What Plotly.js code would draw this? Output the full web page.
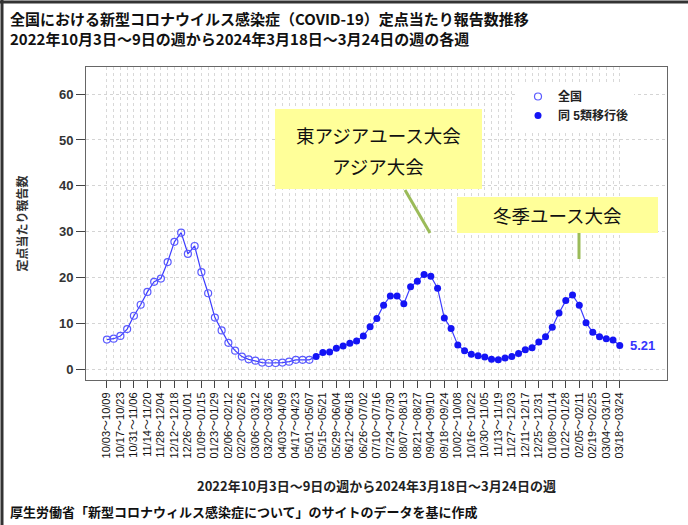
<!DOCTYPE html>
<html>
<head>
<meta charset="utf-8">
<script src="https://cdn.plot.ly/plotly-3.0.1.min.js"></script>
<style>html,body{margin:0;padding:0;background:#fff;}#chart{width:688px;height:525px;}</style>
</head>
<body>
<div id="chart"></div>
<script>
// ---- data ----
const allSeries = [6.5, 6.7, 7.3, 8.8, 11.7, 14.1, 16.9, 19.1, 19.8, 23.4, 27.8, 29.8, 25.2, 26.9, 21.2, 16.6, 11.3, 8.5, 5.8, 4.1, 2.8, 2.2, 1.9, 1.5, 1.4, 1.4, 1.5, 1.7, 2.1, 2.1, 2.1];
const afterSeries = [2.8, 3.7, 3.8, 4.6, 5.1, 5.7, 6.2, 7.3, 9.3, 11.1, 14.0, 16.0, 16.0, 14.3, 18.0, 19.2, 20.7, 20.3, 17.7, 11.2, 8.9, 5.3, 4.1, 3.3, 3.0, 2.7, 2.2, 2.1, 2.5, 2.8, 3.5, 4.3, 4.7, 6.0, 7.1, 9.2, 12.3, 15.0, 16.2, 14.0, 10.2, 8.1, 7.1, 6.7, 6.4, 5.21];
const tickLabels = ["10/03～10/09","10/17～10/23","10/31～11/06","11/14～11/20","11/28～12/04","12/12～12/18","12/26～01/01","01/09～01/15","01/23～01/29","02/06～02/12","02/20～02/26","03/06～03/12","03/20～03/26","04/03～04/09","04/17～04/23","05/01～05/07","05/15～05/21","05/29～06/04","06/12～06/18","06/26～07/02","07/10～07/16","07/24～07/30","08/07～08/13","08/21～08/27","09/04～09/10","09/18～09/24","10/02～10/08","10/16～10/22","10/30～11/05","11/13～11/19","11/27～12/03","12/11～12/17","12/25～12/31","01/08～01/14","01/22～01/28","02/05～02/11","02/19～02/25","03/04～03/10","03/18～03/24"];
const seriesNames = ["全国", "同 5類移行後"];
const titleText = "全国における新型コロナウイルス感染症（COVID-19）定点当たり報告数推移<br>2022年10月3日～9日の週から2024年3月18日～3月24日の週の各週";
const xTitle = "2022年10月3日～9日の週から2024年3月18日～3月24日の週";
const yTitle = "定点当たり報告数";
const sourceText = "厚生労働省「新型コロナウィルス感染症について」のサイトのデータを基に作成";
const eventLabels = ["東アジアユース大会", "アジア大会", "冬季ユース大会"];

// ---- build ----
const xAll = allSeries.map((_, i) => i);
const xAfter = afterSeries.map((_, i) => i + allSeries.length);
const combinedY = allSeries.concat(afterSeries);
const combinedX = combinedY.map((_, i) => i);
const tickVals = tickLabels.map((_, i) => i * 2);
const minorVals = combinedX.filter(i => i % 2 === 1);

const L = 86, R = 667, T = 67, B = 380;
const px = x => (x - L) / (R - L);
const py = y => (B - y) / (B - T);

const FONT = '"Liberation Sans", "Noto Sans CJK JP", sans-serif';
const JP = '"Noto Sans CJK JP", sans-serif';
const blueLine = 'rgb(60,60,255)';
const blueFill = 'rgb(20,20,245)';

const traces = [
  {x: combinedX, y: combinedY, mode: 'lines', line: {color: blueLine, width: 1.2}, showlegend: false, hoverinfo: 'skip'},
  {x: xAll, y: allSeries, mode: 'markers', name: seriesNames[0],
   marker: {symbol: 'circle-open', size: 7, color: 'rgb(90,90,255)', line: {width: 1.2}}},
  {x: xAfter, y: afterSeries, mode: 'markers', name: seriesNames[1],
   marker: {symbol: 'circle', size: 7, color: blueFill}}
];

const lastVal = afterSeries[afterSeries.length - 1];
const lastIdx = xAfter[xAfter.length - 1];

const layout = {
  width: 688, height: 525,
  margin: {l: L, r: 688 - R, t: T, b: 525 - B},
  paper_bgcolor: '#fff', plot_bgcolor: '#fff',
  font: {family: FONT, color: '#222'},
  showlegend: true,
  legend: {x: px(518), y: py(82), xanchor: 'left', yanchor: 'top', bgcolor: '#fff',
           font: {size: 12, weight: 'bold', family: FONT, color: '#222'}, tracegroupgap: 0},
  xaxis: {
    range: [-3.1, 83], tickmode: 'array', tickvals: tickVals, ticktext: tickLabels,
    tickangle: -90, tickfont: {size: 11, family: FONT, color: '#111'},
    ticks: 'outside', ticklen: 7, tickcolor: '#444',
    showgrid: true, gridcolor: '#d8d8d8', griddash: 'dot', gridwidth: 1,
    minor: {tickmode: 'array', tickvals: minorVals, showgrid: true, gridcolor: '#d8d8d8', griddash: 'dot', gridwidth: 1},
    showline: true, mirror: true, linecolor: '#666', linewidth: 1, zeroline: false,
    title: {text: xTitle, font: {size: 13, weight: 'bold', family: JP, color: '#222'}, standoff: 24}
  },
  yaxis: {
    range: [-2.3, 65.9], tickvals: [0, 10, 20, 30, 40, 50, 60],
    tickfont: {size: 13, weight: 'bold', family: FONT, color: '#333'},
    ticks: 'outside', ticklen: 9, tickcolor: '#444',
    showgrid: true, gridcolor: '#d4d4d4', griddash: 'dot', gridwidth: 1,
    showline: true, mirror: true, linecolor: '#666', linewidth: 1, zeroline: false,
    title: {text: yTitle, font: {size: 12, weight: 'bold', family: JP, color: '#333'}, standoff: 28}
  },
  shapes: [
    {type: 'rect', xref: 'paper', yref: 'paper', x0: px(275), x1: px(482), y0: py(189), y1: py(109), fillcolor: '#FFFF99', line: {width: 0}},
    {type: 'rect', xref: 'paper', yref: 'paper', x0: px(457), x1: px(658), y0: py(233), y1: py(197), fillcolor: '#FFFF99', line: {width: 0}},
    {type: 'line', xref: 'paper', yref: 'paper', x0: px(405), y0: py(190), x1: px(430), y1: py(233), line: {color: '#9BBB59', width: 3}},
    {type: 'line', xref: 'paper', yref: 'paper', x0: px(579), y0: py(233), x1: px(579), y1: py(259), line: {color: '#9BBB59', width: 3}},
    {type: 'line', xref: 'paper', yref: 'paper', x0: px(2), y0: py(0), x1: px(2), y1: py(525), line: {color: '#333', width: 3}},
    {type: 'line', xref: 'paper', yref: 'paper', x0: px(0), y0: py(2), x1: px(688), y1: py(2), line: {color: '#333', width: 3}}
  ],
  annotations: [
    {xref: 'paper', yref: 'paper', x: px(8), y: py(29), xanchor: 'left', yanchor: 'middle', align: 'left', showarrow: false,
     text: titleText, font: {size: 15, weight: 'bold', family: JP, color: '#111'}},
    {xref: 'paper', yref: 'paper', x: px(8), y: py(511), xanchor: 'left', yanchor: 'middle', showarrow: false,
     text: sourceText, font: {size: 13, weight: 'bold', family: JP, color: '#111'}},
    {xref: 'paper', yref: 'paper', x: px(378), y: py(135), xanchor: 'center', yanchor: 'middle', showarrow: false,
     text: eventLabels[0], font: {size: 18.5, family: JP, color: '#111'}},
    {xref: 'paper', yref: 'paper', x: px(378), y: py(166), xanchor: 'center', yanchor: 'middle', showarrow: false,
     text: eventLabels[1], font: {size: 18.5, family: JP, color: '#111'}},
    {xref: 'paper', yref: 'paper', x: px(557), y: py(215), xanchor: 'center', yanchor: 'middle', showarrow: false,
     text: eventLabels[2], font: {size: 18.5, family: JP, color: '#111'}},
    {xref: 'x', yref: 'y', x: lastIdx, y: lastVal, xanchor: 'left', yanchor: 'middle', xshift: 8, showarrow: false,
     text: lastVal.toFixed(2), font: {size: 13, weight: 'bold', family: FONT, color: '#3535ff'}}
  ]
};

Plotly.newPlot('chart', traces, layout, {staticPlot: true, displayModeBar: false});
</script>
</body>
</html>
